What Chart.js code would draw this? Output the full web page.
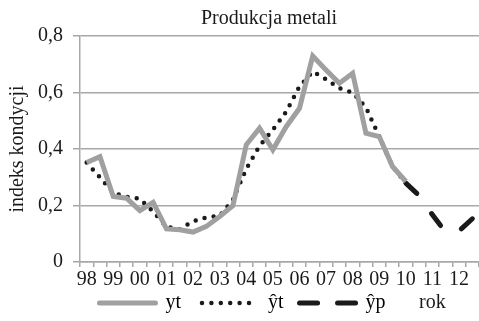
<!DOCTYPE html>
<html>
<head>
<meta charset="utf-8">
<script src="https://cdn.jsdelivr.net/npm/chart.js@4/dist/chart.umd.min.js"></script>
<style>
  html, body { margin: 0; padding: 0; background: #fff; overflow: hidden; }
  #wrap { position: relative; width: 479px; height: 321px; }
  .txt { position: absolute; font: 20px "Liberation Serif", serif; color: #1a1a1a; line-height: 24px; white-space: nowrap; }
  #title { left: 169px; width: 200px; top: 5px; text-align: center; }
  #rok { left: 419px; top: 289px; }
</style>
</head>
<body>
<div id="wrap">
  <canvas id="chart" width="479" height="321"></canvas>
  <div id="title" class="txt">Produkcja metali</div>
  <div id="rok" class="txt">rok</div>
</div>
<script>
// lata (po dwa punkty na rok — półrocza)
const years = ['98', '99', '00', '01', '02', '03', '04', '05', '06', '07', '08', '09', '10', '11', '12'];

// yt — wartości rzeczywiste
const ytValues = [0.352, 0.373, 0.232, 0.226, 0.182, 0.211, 0.117, 0.114, 0.106, 0.126,
  0.161, 0.200, 0.415, 0.474, 0.397, 0.479, 0.544, 0.729, 0.680, 0.633,
  0.668, 0.456, 0.444, 0.338, 0.285];

// ŷt — wartości teoretyczne
const ytHatValues = [0.352, 0.300, 0.245, 0.231, 0.224, 0.178, 0.125, 0.116, 0.144, 0.158,
  0.163, 0.220, 0.330, 0.411, 0.468, 0.532, 0.621, 0.674, 0.647, 0.615,
  0.600, 0.547, 0.444, 0.338, 0.279];

// ŷp — prognoza (od indeksu 24)
const ypHatValues = [0.279, 0.235, 0.167, 0.105, 0.110, 0.153];

const yTicks = [0, 0.2, 0.4, 0.6, 0.8];

const categories = [];
years.forEach(y => { categories.push(y); categories.push(''); });

const ypFull = categories.map((_, i) => (i >= 24 ? ypHatValues[i - 24] : null));

const FONT = '"Liberation Serif", "Times New Roman", serif';
const GRID = '#a8a8a8';
const TEXT = '#1a1a1a';

// trailing spaces give the gap between legend entries
const legendItems = [
  { text: 'yt    ', strokeStyle: '#a0a0a0', lineWidth: 5, lineDash: [], lineCap: 'round' },
  { text: 'ŷt   ', strokeStyle: '#1a1a1a', lineWidth: 4.5, lineDash: [0, 9.4], lineCap: 'round' },
  { text: 'ŷp', strokeStyle: '#1a1a1a', lineWidth: 5, lineDash: [18, 20], lineCap: 'round' },
];

new Chart(document.getElementById('chart'), {
  type: 'line',
  data: {
    labels: categories,
    datasets: [
      {
        label: 'yt',
        data: ytValues,
        borderColor: '#a0a0a0',
        borderWidth: 5,
        pointRadius: 0,
        tension: 0,
        fill: false,
      },
      {
        label: 'ŷt',
        data: ytHatValues,
        borderColor: '#1a1a1a',
        borderWidth: 4.5,
        borderDash: [0, 9.2],
        borderCapStyle: 'round',
        pointRadius: 0,
        tension: 0,
        fill: false,
      },
      {
        label: 'ŷp',
        data: ypFull,
        borderColor: '#1a1a1a',
        borderWidth: 5,
        borderDash: [15, 25],
        borderCapStyle: 'round',
        pointRadius: 0,
        tension: 0,
        fill: false,
      },
    ],
  },
  options: {
    responsive: false,
    animation: false,
    layout: { padding: { left: 6, right: 0, top: 36, bottom: -2 } },
    plugins: {
      title: { display: false },
      legend: {
        position: 'bottom',
        labels: {
          usePointStyle: true,
          pointStyleWidth: 56,
          color: TEXT,
          padding: 1,
          font: { family: FONT, size: 20 },
          generateLabels: () => legendItems.map((it, i) => ({
            text: it.text,
            strokeStyle: it.strokeStyle,
            fillStyle: 'rgba(0,0,0,0)',
            lineWidth: it.lineWidth,
            lineDash: it.lineDash,
            lineCap: it.lineCap,
            pointStyle: 'line',
            datasetIndex: i,
            hidden: false,
          })),
        },
      },
      tooltip: { enabled: false },
    },
    scales: {
      x: {
        offset: true,
        afterFit: axis => { axis.height = 30; },
        grid: {
          offset: true,
          drawOnChartArea: false,
          drawTicks: true,
          tickLength: 5,
          color: GRID,
          lineWidth: 1.5,
        },
        border: { color: GRID, width: 1.5 },
        ticks: {
          autoSkip: false,
          maxRotation: 0,
          padding: 1,
          color: TEXT,
          font: { family: FONT, size: 20 },
        },
      },
      y: {
        min: 0,
        max: 0.8,
        afterFit: axis => { axis.width = 74; },
        afterBuildTicks: axis => { axis.ticks = yTicks.map(v => ({ value: v })); },
        grid: {
          color: GRID,
          lineWidth: 1.5,
          drawTicks: true,
          tickLength: 7,
        },
        border: { color: GRID, width: 1.5 },
        ticks: {
          padding: 10,
          color: TEXT,
          font: { family: FONT, size: 20 },
          callback: v => (v === 0 ? '0' : v.toFixed(1).replace('.', ',')),
        },
        title: {
          display: true,
          text: 'indeks kondycji',
          color: TEXT,
          font: { family: FONT, size: 20 },
          padding: { top: 0, bottom: 0 },
        },
      },
    },
  },
});
</script>
</body>
</html>
